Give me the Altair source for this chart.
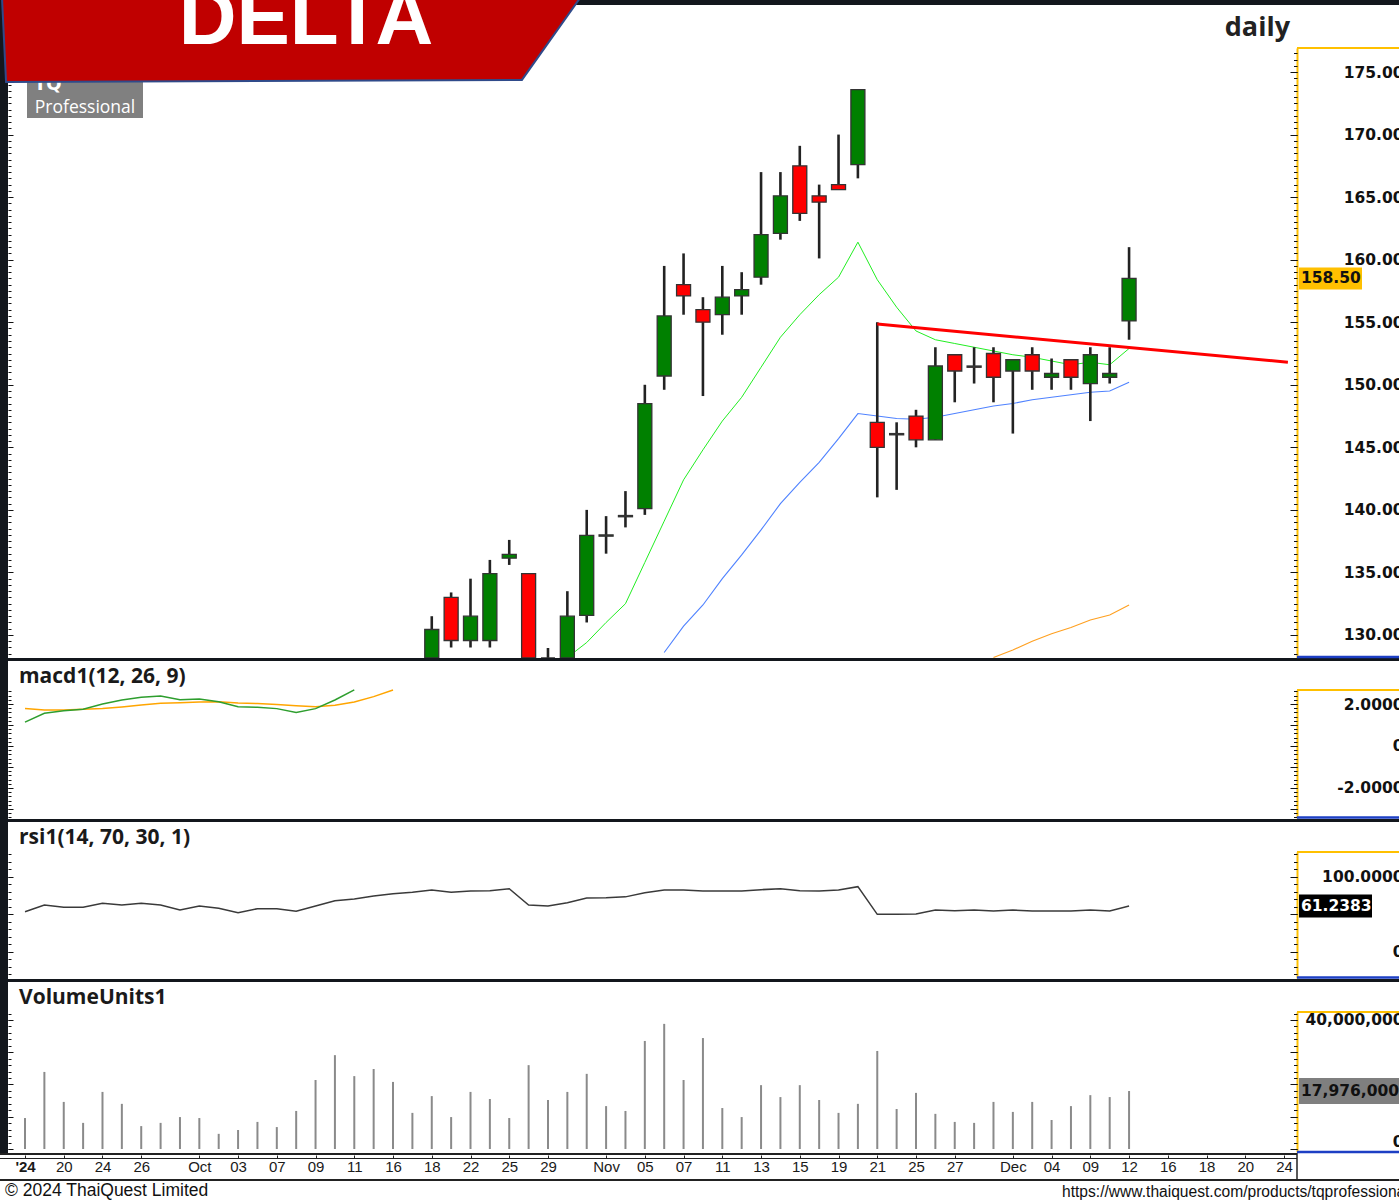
import json
import altair as alt
import pandas as pd

# ---------------- data ----------------
x_tick_index = [0, 2, 4, 6, 9, 11, 13, 15, 17, 19, 21, 23, 25, 27, 30, 32, 34, 36, 38, 40,
                42, 44, 46, 48, 51, 53, 55, 57, 59, 61, 63, 65]
x_tick_label = ["'24", "20", "24", "26", "Oct", "03", "07", "09", "11", "16", "18", "22", "25", "29",
                "Nov", "05", "07", "11", "13", "15", "19", "21", "25", "27", "Dec", "04", "09", "12",
                "16", "18", "20", "24"]

candle_index = list(range(21, 58))
candle_open = [127.6, 133.0, 129.56, 129.56, 136.14, 134.9, 127.2, 127.6, 131.56, 137.9, 139.45, 140.1,
               150.7, 158.0, 156.0, 155.6, 157.1, 158.6, 162.1, 167.5, 165.1, 166.0, 167.6, 147.0,
               146.1, 147.5, 145.6, 152.4, 151.5, 152.5, 151.1, 152.4, 150.6, 152.0, 150.1, 150.6, 155.1]
candle_high = [131.5, 133.4, 134.5, 136.0, 137.6, 134.9, 128.96, 133.5, 140.0, 139.5, 141.5, 150.0,
               159.5, 160.5, 157.0, 159.5, 159.0, 167.0, 167.0, 169.1, 166.0, 170.0, 173.6, 155.0,
               147.0, 148.0, 153.0, 152.4, 153.0, 153.0, 152.0, 153.0, 152.1, 152.0, 153.0, 153.0, 161.0]
candle_low = [127.0, 129.0, 129.0, 129.0, 135.6, 126.5, 126.0, 127.0, 131.0, 136.5, 138.6, 139.6,
              149.6, 155.6, 149.1, 154.0, 155.6, 158.0, 161.6, 163.1, 160.1, 165.6, 166.5, 141.0,
              141.6, 145.0, 145.6, 148.6, 150.1, 148.6, 146.1, 149.6, 149.6, 149.6, 147.1, 150.1, 153.6]
candle_close = [130.44, 129.56, 131.5, 134.9, 136.44, 127.0, 127.5, 131.5, 137.96, 138.0, 139.55, 148.5,
                155.5, 157.1, 155.0, 157.0, 157.6, 162.0, 165.1, 163.7, 164.6, 165.6, 173.6, 145.0,
                146.0, 145.6, 151.5, 151.1, 151.4, 150.6, 152.0, 151.1, 150.9, 150.6, 152.4, 150.9, 158.5]

ma_green_index = list(range(28, 58))
ma_green = [128.2, 129.4, 131.0, 132.5, 135.8, 139.1, 142.4, 144.8, 147.1, 149.0, 151.4, 153.8, 155.6,
            157.2, 158.6, 161.4, 158.4, 156.2, 154.3, 153.6, 153.3, 153.0, 152.7, 152.4, 152.2, 151.9,
            151.6, 151.8, 151.6, 152.9]
ma_blue_index = list(range(33, 58))
ma_blue = [128.6, 130.7, 132.4, 134.5, 136.4, 138.4, 140.5, 142.2, 143.8, 145.7, 147.7, 147.5, 147.3,
           147.25, 147.4, 147.7, 148.0, 148.3, 148.5, 148.8, 149.0, 149.2, 149.4, 149.5, 150.2]
ma_orange_index = list(range(50, 58))
ma_orange = [128.2, 128.8, 129.5, 130.1, 130.6, 131.2, 131.6, 132.4]

trend_index = [44, 65.2]
trend_price = [154.85, 151.8]

macd_index = list(range(0, 18))
macd_line = [1.14, 1.56, 1.68, 1.75, 2.0, 2.19, 2.32, 2.38, 2.2, 2.24, 2.11, 1.87, 1.84, 1.78, 1.6,
             1.78, 2.19, 2.67]
signal_index = list(range(0, 20))
signal_line = [1.78, 1.71, 1.71, 1.75, 1.79, 1.86, 1.95, 2.03, 2.06, 2.1, 2.11, 2.05, 2.02, 1.98, 1.92,
               1.87, 1.94, 2.1, 2.35, 2.67]

rsi_index = list(range(0, 58))
rsi_values = [53.7, 62.7, 59.6, 59.6, 64.9, 62.7, 64.9, 62.7, 56.0, 61.3,
              58.2, 52.4, 57.8, 57.8, 54.2, 61.3, 68.4, 70.7, 74.7, 77.8,
              79.6, 82.7, 79.6, 81.3, 81.8, 84.4, 62.7, 61.3, 65.8, 72.0,
              72.4, 73.5, 79.0, 82.7, 82.7, 81.3, 81.3, 81.3, 83.1, 84.4,
              81.8, 81.3, 82.7, 87.1, 50.2, 50.2, 50.7, 56.0, 55.1, 56.0,
              54.7, 56.0, 54.7, 54.7, 54.7, 56.0, 54.7, 61.2383]

volume_index = list(range(0, 58))
volume_millions = [9.6, 23.9, 14.6, 8.1, 17.7, 14.0, 7.1, 8.1, 9.9, 9.6,
                   4.7, 5.9, 8.4, 6.8, 11.8, 21.4, 29.1, 22.6, 24.8, 20.8,
                   11.2, 16.4, 9.9, 17.7, 15.5, 9.6, 26.0, 15.2, 17.7, 23.3,
                   13.3, 11.8, 33.5, 38.8, 21.4, 34.4, 12.7, 9.9, 19.8, 16.1,
                   19.8, 15.2, 11.2, 14.0, 30.4, 12.4, 17.4, 10.9, 8.4, 8.1,
                   14.6, 11.5, 14.6, 9.0, 13.3, 16.7, 16.1, 17.976]

price_labels = [130, 135, 140, 145, 150, 155, 160, 165, 170, 175]
macd_labels = [2, 0, -2]
rsi_labels = [100, 0]
volume_labels = [40000000, 0]

# ---------------- styling / layout ----------------
GOLD = "#FFC000"
DARK = "#13171d"
BLUE_LINE = "#1d3fc4"
GREEN = "#008000"
RED = "#FF0000"
OFF = 8  # page x of the plot origin


def px(x):
    return x - OFF


one = pd.DataFrame({"k": [0]})


def box(x1, x2, y1, y2, color):
    return alt.Chart(one).mark_rect(color=color, strokeWidth=0).encode(
        x=alt.value(px(x1)), x2=alt.value(px(x2)), y=alt.value(y1), y2=alt.value(y2))


def hline(x1, x2, y, color, w):
    return alt.Chart(one).mark_rule(color=color, strokeWidth=w).encode(
        x=alt.value(px(x1)), x2=alt.value(px(x2)), y=alt.value(y))


def vline(x, y1, y2, color, w):
    return alt.Chart(one).mark_rule(color=color, strokeWidth=w).encode(
        x=alt.value(px(x)), y=alt.value(y1), y2=alt.value(y2))


def text_px(t, x, y, **kw):
    return alt.Chart(one).mark_text(text=t, **kw).encode(x=alt.value(px(x)), y=alt.value(y))


# scales
xs = alt.Scale(domain=[-0.878, 65.67], nice=False, zero=False, padding=0)
price_scale = alt.Scale(domain=[128.16, 176.92], range=[658, 48], nice=False, zero=False, clamp=True)
macd_scale = alt.Scale(domain=[-3.43, 2.667], range=[818, 690], nice=False, zero=False)
rsi_scale = alt.Scale(domain=[-34.67, 133.33], range=[978, 852], nice=False, zero=False)
vol_scale = alt.Scale(domain=[-0.93e6, 42.48e6], range=[1152, 1012], nice=False, zero=False)

label_arr = [""] * 66
for i, t in zip(x_tick_index, x_tick_label):
    label_arr[i] = t
x_label_expr = "[" + ",".join(json.dumps(s) for s in label_arr) + "][datum.value]"

xaxis = alt.Axis(orient="bottom", values=x_tick_index, labelExpr=x_label_expr, domain=False,
                 ticks=True, tickSize=3, tickColor="#222222", labelFont="Liberation Sans",
                 labelFontSize=15, labelColor="#1a1a1a", labelPadding=1, labelBaseline="top",
                 labelFontWeight=alt.ExprRef(expr="datum.value == 0 ? 'bold' : 'normal'"),
                 labelOverlap=False, labelFlush=False, labelBound=False, title=None, grid=False)
X = alt.X("i:Q", scale=xs, axis=xaxis)


def axis_layers(scale, label_vals, label_expr, major_vals, minor_vals, baseline="middle"):
    common = dict(grid=False, title=None, zindex=0)
    specs = [
        (label_vals, alt.Axis(orient="right", values=label_vals, domain=True, domainColor=GOLD,
                              domainWidth=2, ticks=False, tickSize=0, labelExpr=label_expr,
                              labelAlign="right", labelBaseline=baseline, labelPadding=106,
                              labelFont="DejaVu Sans", labelFontSize=15.5, labelFontWeight="bold",
                              labelColor="#111111", labelOverlap=False, labelFlush=False,
                              labelBound=False, **common)),
        (major_vals, alt.Axis(orient="right", offset=-7, values=major_vals, domain=False, ticks=True,
                              tickSize=7, tickColor="#111111", labels=False, **common)),
        (minor_vals, alt.Axis(orient="right", offset=-3.5, values=minor_vals, domain=False, ticks=True,
                              tickSize=3.5, tickColor="#111111", labels=False, **common)),
        (major_vals, alt.Axis(orient="left", offset=-5, values=major_vals, domain=False, ticks=True,
                              tickSize=5, tickColor="#111111", labels=False, **common)),
        (minor_vals, alt.Axis(orient="left", offset=-3, values=minor_vals, domain=False, ticks=True,
                              tickSize=3, tickColor="#111111", labels=False, **common)),
    ]
    out = []
    for vals, ax in specs:
        out.append(alt.Chart(pd.DataFrame({"v": vals})).mark_point(opacity=0).encode(
            y=alt.Y("v:Q", scale=scale, axis=ax)))
    return out


# ---------------- data frames ----------------
cdf = pd.DataFrame({"i": candle_index, "o": candle_open, "h": candle_high,
                    "l": candle_low, "c": candle_close})
g_df = pd.DataFrame({"i": ma_green_index, "p": ma_green})
b_df = pd.DataFrame({"i": ma_blue_index, "p": ma_blue})
o_df = pd.DataFrame({"i": ma_orange_index, "p": ma_orange})
t_df = pd.DataFrame({"i": trend_index, "p": trend_price})
macd_df = pd.DataFrame({"i": macd_index, "m": macd_line})
sig_df = pd.DataFrame({"i": signal_index, "m": signal_line})
rsi_df = pd.DataFrame({"i": rsi_index, "r": rsi_values})
vol_df = pd.DataFrame({"i": volume_index, "v": [v * 1e6 for v in volume_millions]})

last_close = candle_close[-1]
last_rsi = rsi_values[-1]
last_vol = int(round(volume_millions[-1] * 1e6))
ptag = pd.DataFrame({"y": [last_close], "t": [f"{last_close:.2f}"]})
rtag = pd.DataFrame({"y": [last_rsi], "t": [f"{last_rsi:.4f}"]})
vtag = pd.DataFrame({"y": [last_vol], "t": [f"{last_vol:,}"]})


def rect_path(w, h):
    k = h / w
    return f"M-1,-{k:.4f} L1,-{k:.4f} L1,{k:.4f} L-1,{k:.4f} Z"


def PY(field):
    return alt.Y(field, scale=price_scale, axis=None)


layers = []

# main panel
layers.append(alt.Chart(g_df).mark_line(color="#22EE22", strokeWidth=1).encode(x=X, y=PY("p:Q")))
layers.append(alt.Chart(b_df).mark_line(color="#4F82FF", strokeWidth=1.1).encode(x=X, y=PY("p:Q")))
layers.append(alt.Chart(o_df).mark_line(color="#FFA020", strokeWidth=1.1).encode(x=X, y=PY("p:Q")))
layers.append(alt.Chart(cdf).mark_rule(color="#222222", strokeWidth=2.6).encode(
    x=X, y=PY("l:Q"), y2="h:Q"))
layers.append(alt.Chart(cdf).mark_bar(size=14, orient="vertical", stroke="#333333", strokeWidth=1.3).encode(
    x=X, y=PY("o:Q"), y2="c:Q",
    color=alt.condition("datum.c >= datum.o", alt.value(GREEN), alt.value(RED))))
layers.append(alt.Chart(t_df).mark_line(color="#FF0000", strokeWidth=3).encode(x=X, y=PY("p:Q")))

# macd
layers.append(alt.Chart(sig_df).mark_line(color="#FFA500", strokeWidth=1.5).encode(
    x=X, y=alt.Y("m:Q", scale=macd_scale, axis=None)))
layers.append(alt.Chart(macd_df).mark_line(color="#2E9E2E", strokeWidth=1.5).encode(
    x=X, y=alt.Y("m:Q", scale=macd_scale, axis=None)))

# rsi
layers.append(alt.Chart(rsi_df).mark_line(color="#3a3a3a", strokeWidth=1.5).encode(
    x=X, y=alt.Y("r:Q", scale=rsi_scale, axis=None)))

# volume
layers.append(alt.Chart(vol_df).mark_rule(color="#8a8a8a", strokeWidth=2).encode(
    x=X, y=alt.Y("v:Q", scale=vol_scale, axis=None), y2=alt.datum(0)))

# frame
layers += [
    box(0, 1399, 0, 5, DARK),
    box(0, 8, 0, 1153, DARK),
    box(0, 1399, 658, 661, DARK),
    box(0, 1399, 819, 822, DARK),
    box(0, 1399, 979, 982, DARK),
    hline(0, 1297, 1154, "#222222", 2),
    hline(0, 1297, 1158.5, "#222222", 1),
    hline(0, 1399, 1180, "#222222", 2),
    vline(1297, 1153, 1180, "#222222", 1.5),
]
for ytop in [48, 690, 852, 1012]:
    layers.append(hline(1297, 1399, ytop, GOLD, 2))
for ybot in [657, 817.5, 977.5, 1152]:
    layers.append(hline(1297, 1399, ybot, BLUE_LINE, 2.5))

# value tags
layers.append(alt.Chart(ptag).mark_point(shape=rect_path(63, 22), size=63 * 63, filled=True,
                                         fill=GOLD, strokeWidth=0, opacity=1).encode(
    x=alt.value(px(1330.5)), y=alt.Y("y:Q", scale=price_scale, axis=None)))
layers.append(alt.Chart(ptag).mark_text(align="left", baseline="middle", font="DejaVu Sans",
                                        fontSize=15.5, fontWeight="bold", color="#111111").encode(
    x=alt.value(px(1301)), y=alt.Y("y:Q", scale=price_scale, axis=None), text="t:N"))
layers.append(alt.Chart(rtag).mark_point(shape=rect_path(73, 23), size=73 * 73, filled=True,
                                         fill="#000000", strokeWidth=0, opacity=1).encode(
    x=alt.value(px(1335.5)), y=alt.Y("y:Q", scale=rsi_scale, axis=None)))
layers.append(alt.Chart(rtag).mark_text(align="left", baseline="middle", font="DejaVu Sans",
                                        fontSize=15.5, fontWeight="bold", color="#FFFFFF").encode(
    x=alt.value(px(1301)), y=alt.Y("y:Q", scale=rsi_scale, axis=None), text="t:N"))
layers.append(alt.Chart(vtag).mark_point(shape=rect_path(104, 26), size=104 * 104, filled=True,
                                         fill="#7f7f7f", strokeWidth=0, opacity=1).encode(
    x=alt.value(px(1351)), y=alt.Y("y:Q", scale=vol_scale, axis=None)))
layers.append(alt.Chart(vtag).mark_text(align="left", baseline="middle", font="DejaVu Sans",
                                        fontSize=15.5, fontWeight="bold", color="#111111").encode(
    x=alt.value(px(1301)), y=alt.Y("y:Q", scale=vol_scale, axis=None), text="t:N"))

# logo, banner, titles, footer
layers += [
    box(27, 143, 80, 118, "#808080"),
    text_px("TQ", 34, 90, font="DejaVu Sans", fontSize=18, fontWeight="bold", color="#FFFFFF",
            align="left", baseline="alphabetic"),
    text_px("Professional", 85, 108, font="Open Sans", fontSize=17.5, color="#FFFFFF",
            align="center", baseline="middle"),
]
banner_path = "M-1,-0.145 L1,-0.145 L0.799,0.138 L-0.986,0.145 Z"
layers.append(alt.Chart(one).mark_point(shape=banner_path, size=578 * 578, filled=True, fill="#C00000",
                                        stroke="#2F4A8A", strokeWidth=2, opacity=1).encode(
    x=alt.value(px(291)), y=alt.value(40)))
layers += [
    text_px("DELTA", 306, 44, font="Liberation Sans", fontSize=80, fontWeight="bold", color="#FFFFFF",
            align="center", baseline="alphabetic"),
    text_px("daily", 1290, 28, font="Open Sans", fontSize=27, fontWeight="bold", color="#222222",
            align="right", baseline="middle"),
    text_px("macd1(12, 26, 9)", 19, 677, font="Open Sans", fontSize=21, fontWeight="bold",
            color="#1a1a1a", align="left", baseline="middle"),
    text_px("rsi1(14, 70, 30, 1)", 19, 838, font="Open Sans", fontSize=21, fontWeight="bold",
            color="#1a1a1a", align="left", baseline="middle"),
    text_px("VolumeUnits1", 19, 998, font="Open Sans", fontSize=21, fontWeight="bold",
            color="#1a1a1a", align="left", baseline="middle"),
    text_px("\u00a9 2024  ThaiQuest Limited", 5, 1191, font="Liberation Sans", fontSize=17.5,
            color="#111111", align="left", baseline="middle"),
    text_px("https://www.thaiquest.com/products/tqprofessional", 1062, 1192, font="Liberation Sans",
            fontSize=15.6, color="#111111", align="left", baseline="middle"),
]

# axes (dummy invisible layers carrying the panel axes)
main_minor = [128.5 + 0.5 * k for k in range(97)]
macd_minor = [round(-3.4 + 0.2 * k, 2) for k in range(31)]
rsi_minor = [-30 + 10 * k for k in range(17)]
vol_minor = [2e6 * k for k in range(22)]
layers += axis_layers(price_scale, price_labels, "format(datum.value, '.2f')",
                      price_labels, main_minor)
layers += axis_layers(macd_scale, macd_labels,
                      "datum.value == 0 ? '0' : (datum.value < 0 ? '-' : '') + format(abs(datum.value), '.4f')",
                      [-3, -2, -1, 0, 1, 2], macd_minor)
layers += axis_layers(rsi_scale, rsi_labels,
                      "datum.value == 0 ? '0' : format(datum.value, '.4f')",
                      [0, 50, 100], rsi_minor)
layers += axis_layers(vol_scale, volume_labels,
                      "datum.value == 0 ? '0' : format(datum.value, ',')",
                      [0, 1e7, 2e7, 3e7, 4e7], vol_minor,
                      baseline=alt.ExprRef(expr="datum.value == 0 ? 'bottom' : 'middle'"))

chart = alt.layer(*layers).resolve_scale(y="independent").properties(
    width=1289, height=1155,
    autosize=alt.AutoSizeParams(type="none"),
    padding={"left": 8, "top": 0, "right": 102, "bottom": 47},
).configure(background="#FFFFFF").configure_view(stroke=None).configure_axis(grid=False)

chart.save("out.html", embed_options={"renderer": "svg", "actions": False})
